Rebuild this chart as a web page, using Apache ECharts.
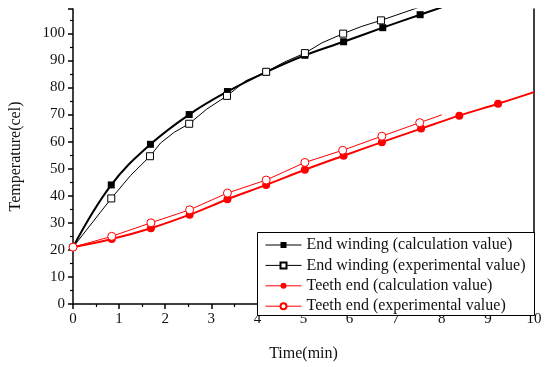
<!DOCTYPE html>
<html>
<head>
<meta charset="utf-8">
<script src="https://cdn.jsdelivr.net/npm/echarts@6/dist/echarts.min.js"></script>
<style>
  html, body { margin: 0; padding: 0; background: #fff; }
  #chart { width: 548px; height: 367px; }
</style>
</head>
<body>
<div id="chart"></div>
<script>
// --- data ---
const xTicks = [0, 1, 2, 3, 4, 5, 6, 7, 8, 9, 10];

// End winding, calculation value (1 = marker shown)
const ewCalcX = [0, 0.83, 1.68, 2.52, 3.35, 4.19, 5.03, 5.87, 6.72, 7.53, 8.0];
const ewCalcY = [21, 44, 59, 70, 78.5, 85.7, 91.9, 96.9, 102.1, 106.9, 109.6];
const ewCalcMark = [0, 1, 1, 1, 1, 1, 1, 1, 1, 1, 0];

// End winding, experimental value
const ewExpX = [0, 0.83, 1.25, 1.67, 1.9, 2.2, 2.52, 2.9, 3.34, 3.75, 4.19, 4.6, 5.03, 5.4, 5.86, 6.25, 6.68, 7.5];
const ewExpY = [21, 39, 47.5, 54.6, 59.5, 63.5, 66.6, 72, 76.9, 82.5, 85.8, 89.5, 92.7, 96.5, 99.9, 102.5, 104.8, 109.6];
const ewExpMark = [0, 1, 0, 1, 0, 0, 1, 0, 1, 0, 1, 0, 1, 0, 1, 0, 1, 0];

// Teeth end, calculation value
const teCalcX = [0, 0.84, 1.69, 2.53, 3.35, 4.19, 5.03, 5.87, 6.70, 7.55, 8.38, 9.22, 10];
const teCalcY = [21, 24, 28, 33, 38.7, 44, 49.6, 54.8, 59.8, 64.8, 69.6, 74, 78.3];
const teCalcMark = [1, 1, 1, 1, 1, 1, 1, 1, 1, 1, 1, 1, 0];

// Teeth end, experimental value
const teExpX = [0, 0.84, 1.69, 2.53, 3.35, 4.19, 5.03, 5.85, 6.70, 7.52, 8.0];
const teExpY = [21, 25, 30, 34.8, 41, 45.8, 52.3, 56.8, 62, 67, 69.9];
const teExpMark = [1, 1, 1, 1, 1, 1, 1, 1, 1, 1, 0];

const FONT = '"Liberation Serif", "Times New Roman", serif';

function toData(xs, ys, marks) {
  return xs.map((x, i) => marks[i] ? [x, ys[i]] : { value: [x, ys[i]], symbol: 'none' });
}

const chart = echarts.init(document.getElementById('chart'), null, { renderer: 'canvas' });

const axisCommon = {
  axisLine: { show: true, lineStyle: { color: '#000', width: 1.5 } },
  axisTick: { show: true, inside: false, length: 5, lineStyle: { color: '#000', width: 1.5 } },
  minorTick: { show: true, splitNumber: 2, length: 3, lineStyle: { color: '#000', width: 1.2 } },
  splitLine: { show: false },
  minorSplitLine: { show: false },
  axisLabel: { color: '#111', fontSize: 15, fontFamily: FONT, margin: 8 }
};

const option = {
  backgroundColor: '#fff',
  animation: false,
  grid: { left: 68, right: 14, top: 9, bottom: 52, containLabel: false },
  xAxis: {
    type: 'value',
    min: 0,
    max: 10,
    interval: 1,
    name: 'Time(min)',
    nameLocation: 'middle',
    nameGap: 42,
    nameTextStyle: { color: '#111', fontSize: 16, fontFamily: FONT },
    ...axisCommon,
    axisLabel: { ...axisCommon.axisLabel, formatter: v => xTicks.includes(v) ? String(v) : '' }
  },
  yAxis: [
    {
      type: 'value',
      min: 0,
      max: 109,
      interval: 10,
      name: 'Temperature(cel)',
      nameLocation: 'middle',
      nameGap: 49,
      nameTextStyle: { color: '#111', fontSize: 16, fontFamily: FONT },
      ...axisCommon,
      axisLabel: { ...axisCommon.axisLabel, showMaxLabel: false }
    },
    {
      type: 'value',
      position: 'right',
      min: 0,
      max: 109,
      axisLine: { show: true, onZero: false, lineStyle: { color: '#000', width: 1.5 } },
      axisTick: { show: false },
      axisLabel: { show: false },
      splitLine: { show: false }
    }
  ],
  legend: {
    orient: 'vertical',
    left: 265,
    top: 237,
    padding: 0,
    itemWidth: 36,
    itemHeight: 7.5,
    itemGap: 4.4,
    lineStyle: { width: 1 },
    textStyle: { color: '#111', fontSize: 16, fontFamily: FONT, lineHeight: 16 },
    data: [
      'End winding (calculation value)',
      'End winding (experimental value)',
      'Teeth end (calculation value)',
      'Teeth end (experimental value)'
    ]
  },
  graphic: [
    {
      type: 'rect',
      left: 257,
      top: 232,
      shape: { width: 277, height: 83 },
      style: { fill: '#fff', stroke: '#000', lineWidth: 1 },
      z: 3
    }
  ],
  series: [
    {
      name: 'End winding (calculation value)',
      type: 'line',
      smooth: 0.4,
      symbol: 'rect',
      symbolSize: 7,
      color: '#000',
      lineStyle: { color: '#000', width: 2 },
      itemStyle: { color: '#000', borderColor: '#000', borderWidth: 0 },
      data: toData(ewCalcX, ewCalcY, ewCalcMark),
      z: 2
    },
    {
      name: 'End winding (experimental value)',
      type: 'line',
      symbol: 'rect',
      symbolSize: 7,
      color: '#000',
      lineStyle: { color: '#000', width: 1 },
      itemStyle: { color: '#fff', borderColor: '#000', borderWidth: 1 },
      data: toData(ewExpX, ewExpY, ewExpMark),
      z: 2
    },
    {
      name: 'Teeth end (calculation value)',
      type: 'line',
      smooth: 0.4,
      symbol: 'circle',
      symbolSize: 8,
      color: '#ff0000',
      lineStyle: { color: '#ff0000', width: 2 },
      itemStyle: { color: '#ff0000', borderColor: '#ff0000', borderWidth: 0 },
      data: toData(teCalcX, teCalcY, teCalcMark),
      z: 2
    },
    {
      name: 'Teeth end (experimental value)',
      type: 'line',
      symbol: 'circle',
      symbolSize: 8,
      color: '#ff0000',
      lineStyle: { color: '#ff0000', width: 1 },
      itemStyle: { color: '#fff', borderColor: '#ff0000', borderWidth: 1 },
      data: toData(teExpX, teExpY, teExpMark),
      z: 2
    }
  ]
};

chart.setOption(option);
</script>
</body>
</html>
